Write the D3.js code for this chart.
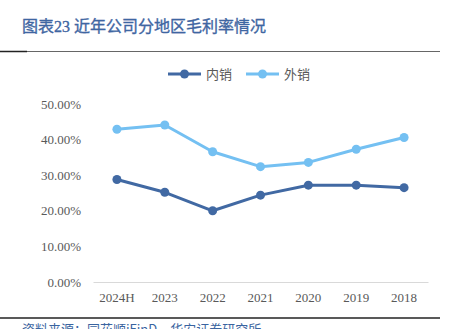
<!DOCTYPE html>
<html>
<head>
<meta charset="utf-8">
<script src="https://cdn.jsdelivr.net/npm/d3@7"></script>
<style>
  html, body { margin: 0; padding: 0; background: #fff; }
  svg { display: block; }
</style>
</head>
<body>
<svg id="chart" width="456" height="329"></svg>
<script>
// 年份与两条毛利率序列（%）
const years = ["2024H", "2023", "2022", "2021", "2020", "2019", "2018"];
const domesticMargin = [28.8, 25.2, 20.0, 24.4, 27.2, 27.2, 26.5];   // 内销
const overseasMargin = [42.9, 44.1, 36.6, 32.4, 33.6, 37.3, 40.6];   // 外销
const yTicks = [0, 10, 20, 30, 40, 50];

const seriesNames = ["内销", "外销"];
const seriesColors = ["#4169a3", "#74c0f2"];
const seriesData = [domesticMargin, overseasMargin];

const svg = d3.select("#chart");
const margin = { left: 93, right: 28, top: 104, bottom: 47 };
const W = 456, H = 329;

// 标题
svg.append("text")
  .attr("x", 22).attr("y", 32)
  .attr("font-family", "'Liberation Serif', 'Noto Sans CJK SC', serif")
  .attr("font-size", 16)
  .attr("fill", "#3f66a2").attr("stroke", "#3f66a2").attr("stroke-width", 0.35)
  .text("图表23 近年公司分地区毛利率情况");

// 标题下分隔线
svg.append("line").attr("x1", 0).attr("x2", 440).attr("y1", 51.5).attr("y2", 51.5)
  .attr("stroke", "#666").attr("stroke-width", 1);
svg.append("line").attr("x1", 0).attr("x2", 27).attr("y1", 51.5).attr("y2", 51.5)
  .attr("stroke", "#222").attr("stroke-width", 1.5);

const x = d3.scaleBand().domain(years).range([margin.left, W - margin.right]);
const y = d3.scaleLinear().domain([0, 50]).range([H - margin.bottom, margin.top]);

// 纵轴标签
const yAxis = d3.axisLeft(y).tickValues(yTicks)
  .tickFormat(d => d3.format(".2f")(d) + "%").tickSize(0).tickPadding(12);
const gy = svg.append("g").attr("transform", `translate(${margin.left},0)`).call(yAxis);
gy.select(".domain").remove();
gy.selectAll("text")
  .attr("font-family", "'Liberation Serif', serif")
  .attr("font-size", 13).attr("fill", "#595959");

// 横轴
const gx = svg.append("g").attr("transform", `translate(0,${y(0)})`)
  .call(d3.axisBottom(x).tickSize(0).tickPadding(11));
gx.select(".domain").attr("stroke", "#d9d9d9").attr("stroke-width", 1);
gx.selectAll("text")
  .attr("font-family", "'Liberation Serif', serif")
  .attr("font-size", 13).attr("fill", "#595959");

// 折线与数据点
const cx = d => x(d) + x.bandwidth() / 2;
const line = d3.line().x((d, i) => cx(years[i])).y(d => y(d));

seriesData.forEach((vals, k) => {
  svg.append("path").datum(vals)
    .attr("d", line).attr("fill", "none")
    .attr("stroke", seriesColors[k]).attr("stroke-width", 3)
    .attr("stroke-linejoin", "round");
  svg.append("g").selectAll("circle").data(vals).join("circle")
    .attr("cx", (d, i) => cx(years[i])).attr("cy", d => y(d))
    .attr("r", 4.5).attr("fill", seriesColors[k]);
});

// 图例
const legendX = [168, 246];
seriesNames.forEach((name, k) => {
  const g = svg.append("g").attr("transform", `translate(${legendX[k]},74)`);
  g.append("line").attr("x1", 0).attr("x2", 33).attr("y1", 0).attr("y2", 0)
    .attr("stroke", seriesColors[k]).attr("stroke-width", 3);
  g.append("circle").attr("cx", 16.5).attr("cy", 0).attr("r", 4.5).attr("fill", seriesColors[k]);
  g.append("text").attr("x", 38).attr("y", 4.5)
    .attr("font-family", "'Noto Sans CJK SC', sans-serif")
    .attr("font-size", 13).attr("fill", "#595959").text(name);
});

// 底部分隔线与资料来源
svg.append("line").attr("x1", 0).attr("x2", 440).attr("y1", 318).attr("y2", 318)
  .attr("stroke", "#222").attr("stroke-width", 1.5);
svg.append("text").attr("x", 22).attr("y", 334)
  .attr("font-family", "'Noto Sans CJK SC', sans-serif")
  .attr("font-size", 13).attr("fill", "#3a64a0")
  .text("资料来源：同花顺iFinD，华安证券研究所");
</script>
</body>
</html>
